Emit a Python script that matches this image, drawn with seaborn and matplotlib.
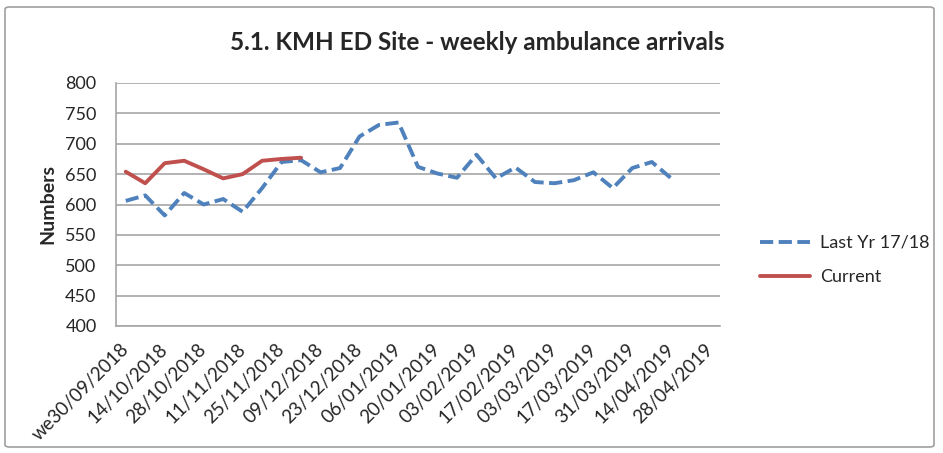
import pandas as pd
import seaborn as sns
import matplotlib.pyplot as plt
from matplotlib.patches import FancyBboxPatch

# Weekly ambulance arrivals, KMH ED site (week ending 30/09/2018 onwards)
sns.set_style("white")
plt.rcParams["font.family"] = ["Lato", "DejaVu Sans"]

tick_labels = [
    "we30/09/2018", "14/10/2018", "28/10/2018", "11/11/2018", "25/11/2018",
    "09/12/2018", "23/12/2018", "06/01/2019", "20/01/2019", "03/02/2019",
    "17/02/2019", "03/03/2019", "17/03/2019", "31/03/2019", "14/04/2019",
    "28/04/2019",
]
n_weeks = 31

last_year = [606, 615, 582, 619, 600, 609, 588, 627, 670, 673,
             653, 660, 712, 731, 735, 662, 651, 644, 682, 643,
             661, 637, 635, 640, 653, 627, 660, 670, 643]
current = [654, 635, 668, 672, 658, 643, 650, 672, 675, 677]

df_last = pd.DataFrame({"week": range(len(last_year)), "arrivals": last_year})
df_cur = pd.DataFrame({"week": range(len(current)), "arrivals": current})

fig = plt.figure(figsize=(9.43, 4.53), dpi=100)
ax = fig.add_axes([116 / 943, 1 - 326 / 453, 604 / 943, 243 / 453])

sns.lineplot(data=df_last, x="week", y="arrivals", ax=ax, color="#4f81bd",
             linewidth=2.8, linestyle=(0, (3.4, 1.4)), label="Last Yr 17/18")
sns.lineplot(data=df_cur, x="week", y="arrivals", ax=ax, color="#c0504d",
             linewidth=2.8, label="Current")

ax.set_xlim(-0.5, n_weeks - 0.5)
ax.set_ylim(400, 800)
ax.set_yticks(range(400, 801, 50))
ax.set_xticks(range(0, n_weeks, 2))
ax.set_xticklabels(tick_labels, rotation=45, ha="right", va="center",
                   rotation_mode="anchor")
ax.tick_params(axis="x", labelsize=13.5, length=0, pad=15)
ax.tick_params(axis="y", labelsize=13, length=0, pad=14)
ax.grid(axis="y", color="#a6a6a6", linewidth=1.2)
ax.set_axisbelow(True)
for side in ["top", "right"]:
    ax.spines[side].set_visible(False)
for side in ["left", "bottom"]:
    ax.spines[side].set_color("#a6a6a6")
    ax.spines[side].set_linewidth(1.2)

ax.set_xlabel("")
ax.set_ylabel("Numbers", fontsize=14, fontweight="bold", labelpad=6)
fig.text(477 / 943, 1 - 43 / 453, "5.1. KMH ED Site - weekly ambulance arrivals",
         ha="center", va="center", fontsize=17.5, fontweight="bold")

ax.legend(loc="center left", bbox_to_anchor=(744 / 943, 1 - 260 / 453),
          bbox_transform=fig.transFigure, frameon=False, fontsize=13,
          handlelength=2.75, handletextpad=0.55, labelspacing=1.0)

fig.patches.append(FancyBboxPatch((5 / 943, 6 / 453), 929 / 943, 440 / 453,
                                  boxstyle="round,pad=0,rounding_size=0.005",
                                  transform=fig.transFigure, fill=False,
                                  edgecolor="#a0a0a0", linewidth=1.2))

plt.savefig("out.png", dpi=100)
